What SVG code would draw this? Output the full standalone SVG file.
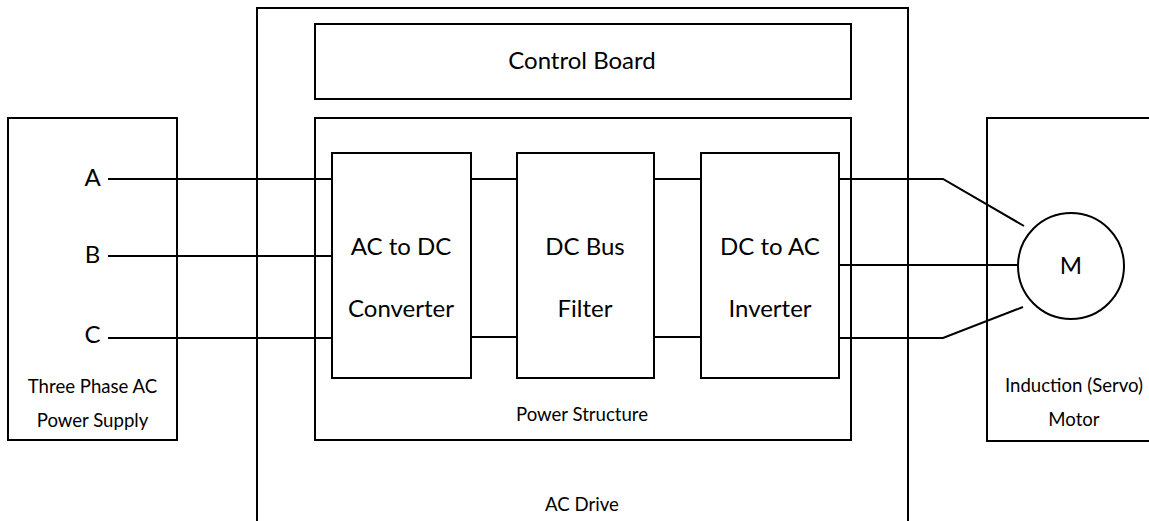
<svg xmlns="http://www.w3.org/2000/svg" width="1149" height="521" viewBox="0 0 1149 521">
<style>
.box{fill:none;stroke:#000;stroke-width:2}
.wire{fill:none;stroke:#000;stroke-width:2}
.lg{font-family:Lato,"Liberation Sans",sans-serif;font-size:24px;fill:#000;text-anchor:middle}
.sm{font-family:Lato,"Liberation Sans",sans-serif;font-size:18.6px;fill:#000;text-anchor:middle}
</style>
<rect width="1149" height="521" fill="#fff"/>
<g id="supply">
<rect class="box" x="8" y="118" width="169" height="322"/>
<text class="lg" x="92.5" y="186">A</text>
<text class="lg" x="92.5" y="263">B</text>
<text class="lg" x="92.5" y="343">C</text>
<text class="sm" x="92.5" y="393">Three Phase AC</text>
<text class="sm" x="92.5" y="427">Power Supply</text>
</g>
<g id="drive">
<rect class="box" x="257" y="8" width="651" height="530"/>
<text class="sm" x="582" y="511">AC Drive</text>
</g>
<g id="control">
<rect class="box" x="315" y="24" width="536" height="75"/>
<text class="lg" x="582" y="69">Control Board</text>
</g>
<g id="power">
<rect class="box" x="315" y="118" width="536" height="322"/>
<text class="sm" x="582" y="421">Power Structure</text>
</g>
<g id="motorbox">
<rect class="box" x="987" y="118" width="180" height="323"/>
<text class="sm" x="1074" y="392">Induction (Servo)</text>
<text class="sm" x="1074" y="426">Motor</text>
</g>
<g id="connectors">
<path class="wire" d="M108 179H332M108 256H332M108 338H332"/>
<path class="wire" d="M471 179H517M471 337H517M654 179H701M654 337H701"/>
<path class="wire" d="M839 179H943L1024 226M839 265H1018M839 338H943L1023 307"/>
</g>
<g id="converter">
<rect class="box" x="332" y="153" width="139" height="225"/>
<text class="lg" x="401" y="255">AC to DC</text>
<text class="lg" x="401" y="317">Converter</text>
</g>
<g id="filter">
<rect class="box" x="517" y="153" width="137" height="225"/>
<text class="lg" x="585" y="255">DC Bus</text>
<text class="lg" x="585" y="317">Filter</text>
</g>
<g id="inverter">
<rect class="box" x="701" y="153" width="138" height="225"/>
<text class="lg" x="770" y="255">DC to AC</text>
<text class="lg" x="770" y="317">Inverter</text>
</g>
<g id="motor">
<circle class="box" cx="1071" cy="266" r="53"/>
<text class="lg" x="1071" y="274">M</text>
</g>
</svg>
